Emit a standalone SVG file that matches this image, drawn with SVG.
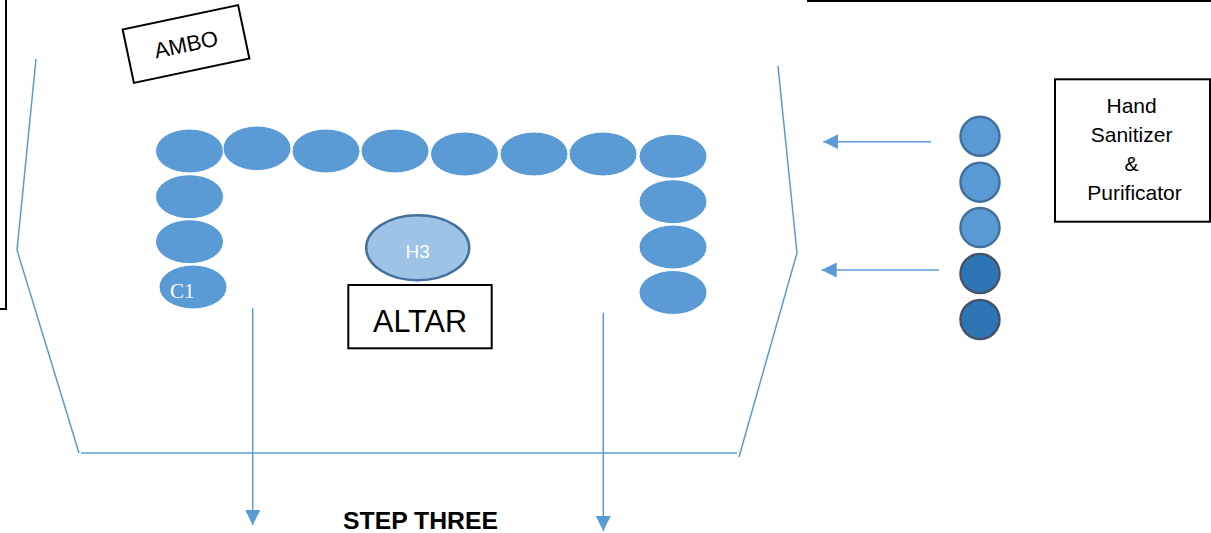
<svg xmlns="http://www.w3.org/2000/svg" width="1211" height="533" viewBox="0 0 1211 533">
  <defs>
    <style>
      .frame { fill: none; stroke: #5B9BD5; stroke-width: 1.5; }
      .conn { fill: none; stroke: #5B9BD5; stroke-width: 1.5; }
      .seat { fill: #5B9BD5; stroke: #ffffff; stroke-width: 1; }
      .box { fill: #ffffff; stroke: #000000; stroke-width: 2; }
      .lbl { font-family: "Liberation Sans", Arial, sans-serif; fill: #000000; }
      .dot-a { fill: #5B9BD5; stroke: #41719C; stroke-width: 2.5; }
      .dot-b { fill: #2E75B6; stroke: #44546A; stroke-width: 2.5; }
    </style>
    <marker id="arrow" viewBox="0 0 15 15" refX="15" refY="7.5" markerWidth="15" markerHeight="15" markerUnits="userSpaceOnUse" orient="auto">
      <path d="M0,0 L15,7.5 L0,15 z" fill="#5B9BD5"/>
    </marker>
  </defs>
  <rect width="1211" height="533" fill="#ffffff"/>

  <!-- partially visible boxes at the edges -->
  <g id="edge-boxes">
    <rect class="box" x="-100" y="-20" width="106" height="329"/>
    <rect class="box" x="808" y="-100" width="500" height="101"/>
  </g>

  <!-- sanctuary outline -->
  <g id="outline">
    <polyline class="frame" points="36,59 17,250 79,453"/>
    <line class="frame" x1="81" y1="453" x2="737" y2="453"/>
    <polyline class="frame" points="778,66 797,253 739,457"/>
  </g>

  <g id="ambo">
    <g transform="rotate(-11.9 186 44)">
      <rect class="box" x="127" y="16.7" width="118" height="54.6"/>
      <text class="lbl" x="186" y="52" font-size="22" text-anchor="middle">AMBO</text>
    </g>
  </g>

  <g id="seats-top">
    <ellipse class="seat" cx="189.5" cy="151" rx="34" ry="22"/>
    <ellipse class="seat" cx="257" cy="148.3" rx="34" ry="22.3"/>
    <ellipse class="seat" cx="326" cy="151" rx="34" ry="22"/>
    <ellipse class="seat" cx="395" cy="151" rx="34" ry="22"/>
    <ellipse class="seat" cx="464.5" cy="154" rx="34" ry="22"/>
    <ellipse class="seat" cx="534" cy="154" rx="34" ry="22"/>
    <ellipse class="seat" cx="603" cy="154" rx="34" ry="22"/>
    <ellipse class="seat" cx="673" cy="156.3" rx="34" ry="22"/>
  </g>

  <g id="seats-left">
    <ellipse class="seat" cx="189.5" cy="196.7" rx="34" ry="22"/>
    <ellipse class="seat" cx="189.5" cy="241.7" rx="34" ry="22"/>
  </g>

  <g id="seat-c1">
    <ellipse class="seat" cx="193" cy="287" rx="34" ry="22"/>
    <text x="170" y="298" font-family="'Liberation Serif', 'Times New Roman', serif" font-size="21" fill="#ffffff">C1</text>
  </g>

  <g id="seats-right">
    <ellipse class="seat" cx="673" cy="201.7" rx="34" ry="22"/>
    <ellipse class="seat" cx="673" cy="247" rx="34" ry="22"/>
    <ellipse class="seat" cx="673" cy="292.5" rx="34" ry="22"/>
  </g>

  <g id="h3">
    <ellipse cx="417.7" cy="247.8" rx="51.5" ry="32.5" fill="#9DC3E6" stroke="#41719C" stroke-width="2.5"/>
    <text x="417.7" y="258" font-family="'Liberation Sans', Arial, sans-serif" font-size="19" fill="#ffffff" text-anchor="middle">H3</text>
  </g>

  <g id="altar">
    <rect class="box" x="348.3" y="285" width="143.4" height="63.3"/>
    <text class="lbl" x="420" y="331.5" font-size="32" text-anchor="middle" textLength="94" lengthAdjust="spacingAndGlyphs">ALTAR</text>
  </g>

  <g id="stations">
    <circle class="dot-a" cx="980" cy="136.3" r="19.5"/>
    <circle class="dot-a" cx="980" cy="182.2" r="19.5"/>
    <circle class="dot-a" cx="980" cy="227.5" r="19.5"/>
    <circle class="dot-b" cx="980" cy="273.5" r="19.5"/>
    <circle class="dot-b" cx="980" cy="319.5" r="19.5"/>
  </g>

  <g id="sanitizer">
    <rect class="box" x="1055" y="79.3" width="155" height="142.4"/>
    <text class="lbl" font-size="21" text-anchor="middle">
      <tspan x="1134.5" y="112.5">Hand</tspan>
      <tspan x="1134.5" y="141.5">Sanitizer</tspan>
      <tspan x="1134.5" y="170.5">&amp;</tspan>
      <tspan x="1134.5" y="199.5">Purificator</tspan>
    </text>
  </g>

  <g id="connectors">
    <line class="conn" x1="931" y1="141.7" x2="823.3" y2="141.7" marker-end="url(#arrow)"/>
    <line class="conn" x1="939" y1="270" x2="821.7" y2="270" marker-end="url(#arrow)"/>
    <line class="conn" x1="252.7" y1="308.3" x2="252.7" y2="525" marker-end="url(#arrow)"/>
    <line class="conn" x1="603.3" y1="312.7" x2="603.3" y2="531" marker-end="url(#arrow)"/>
  </g>

  <g id="title">
    <text class="lbl" x="420.5" y="529" font-size="23" font-weight="bold" text-anchor="middle" textLength="155" lengthAdjust="spacingAndGlyphs">STEP THREE</text>
  </g>
</svg>
